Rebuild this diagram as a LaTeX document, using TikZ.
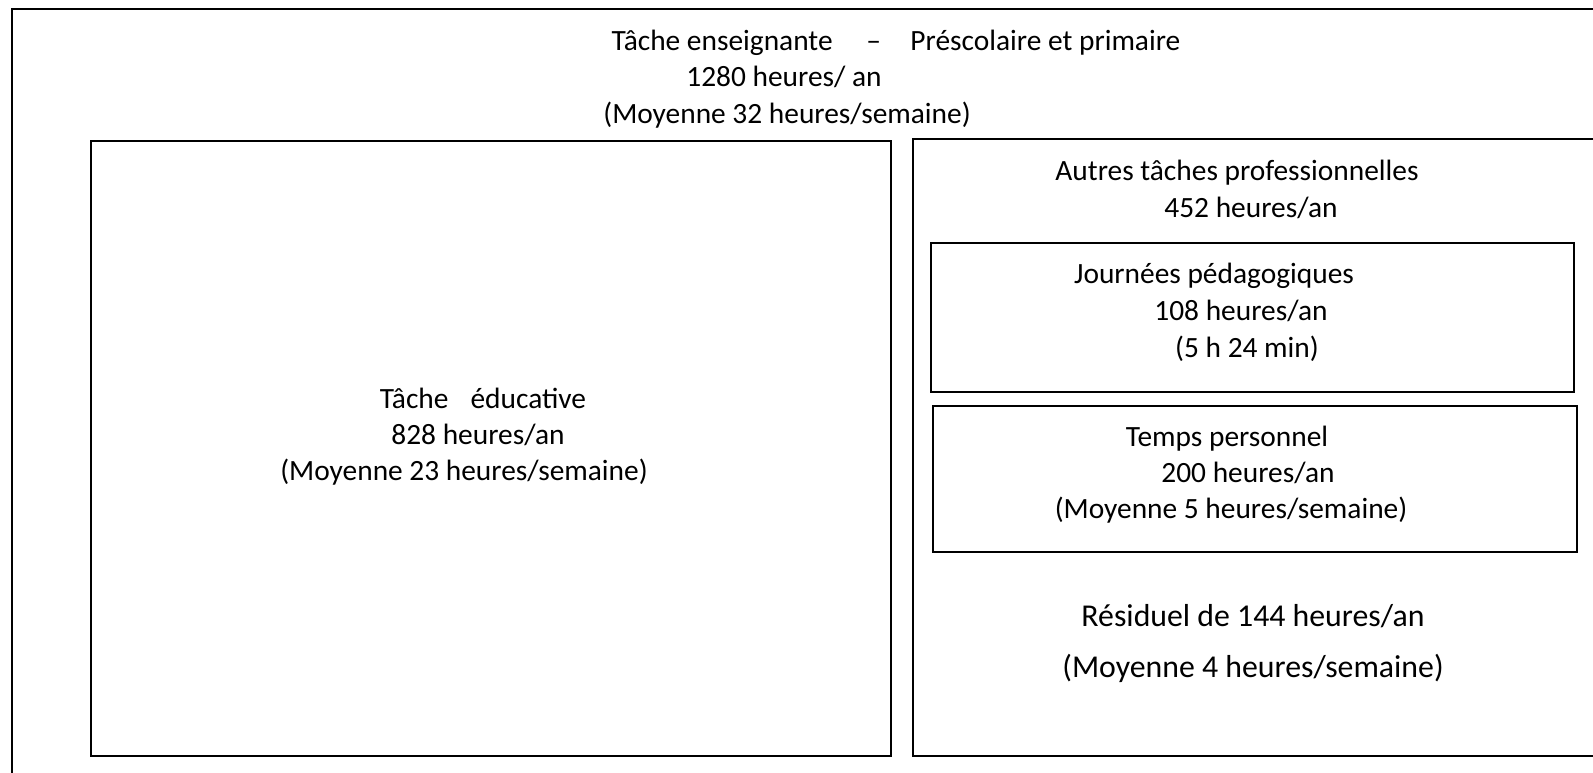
\documentclass[tikz,border=0pt]{standalone}
\usepackage{fontspec}
\setmainfont{Carlito}
\begin{document}
\begin{tikzpicture}[x=0.5pt,y=-0.5pt,line width=1.1pt,
  ligne/.style={anchor=base,inner sep=0pt,font=\fontsize{14.7}{17}\selectfont},
  grand/.style={anchor=base,inner sep=0pt,font=\fontsize{15.9}{19}\selectfont}]
\useasboundingbox (0,0) rectangle (1593,772);
\clip (0,0) rectangle (1593,772);
% cadres
\draw (12,9) rectangle (1620,800);
\draw (91,141) rectangle (891,756);
\draw (913,139) rectangle (1620,756);
\draw (931,243) rectangle (1574,392);
\draw (933,406) rectangle (1577,552);
% tache enseignante
\node[ligne] (titre) at (896,50) {Tâche enseignante\hspace{1.15em}–\hspace{1em}Préscolaire et primaire};
\node[ligne] (titreh) at (784,86) {1280 heures/ an};
\node[ligne] (titrem) at (787,123) {(Moyenne 32 heures/semaine)};
% tache educative
\node[ligne] (educ) at (483,408) {Tâche\hspace{0.75em}éducative};
\node[ligne] (educh) at (478,444) {828 heures/an};
\node[ligne] (educm) at (464,480) {(Moyenne 23 heures/semaine)};
% autres taches
\node[ligne] (autres) at (1237,180) {Autres tâches professionnelles};
\node[ligne] (autresh) at (1251,217) {452 heures/an};
\node[ligne] (journ) at (1214,283) {Journées pédagogiques};
\node[ligne] (journh) at (1241,320) {108 heures/an};
\node[ligne] (journm) at (1247,357) {(5 h 24 min)};
\node[ligne] (perso) at (1227,446) {Temps personnel};
\node[ligne] (persoh) at (1248,482) {200 heures/an};
\node[ligne] (persom) at (1231,518) {(Moyenne 5 heures/semaine)};
\node[grand] (resid) at (1253,626) {Résiduel de 144 heures/an};
\node[grand] (residm) at (1253,677) {(Moyenne 4 heures/semaine)};
\end{tikzpicture}
\end{document}
